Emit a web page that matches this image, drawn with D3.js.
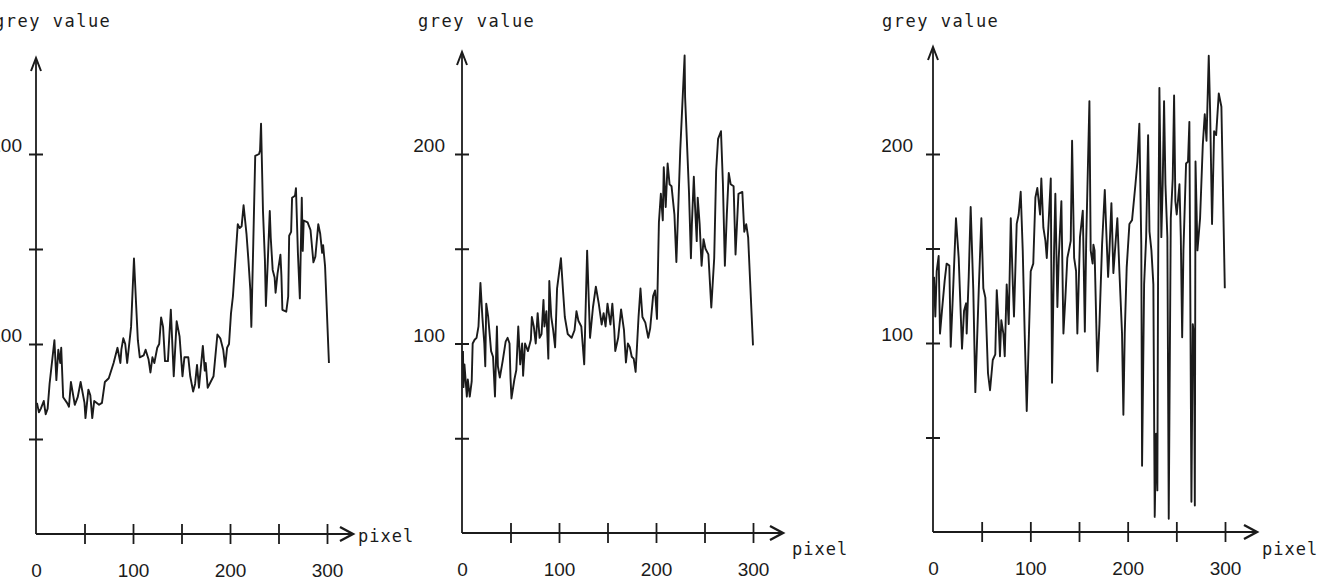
<!DOCTYPE html>
<html>
<head>
<meta charset="utf-8">
<script src="https://d3js.org/d3.v7.min.js"></script>
<style>
body { margin: 0; background: #fff; }
</style>
</head>
<body>
<div id="chart"></div>
<script>
var width = 1317, height = 580;

// profile A (left)
var pixA = [1,3,5,8,10,12,14,19,21,23,25,26,28,32,34,36,40,43,46,50,51,54,56,58,60,65,68,71,75,80,84,87,88,90,92,94,98,99,101,103,105,107,111,113,116,118,120,122,125,127,129,131,133,136,139,142,145,148,151,153,157,159,162,164,166,168,172,174,175,177,180,183,187,190,193,195,197,199,201,203,208,210,212,214,217,219,221,222,224,226,230,231,232,234,236,237,239,241,242,244,246,247,249,252,253,254,258,260,261,263,264,267,268,270,272,274,275,276,280,283,286,288,291,293,295,296,298,302];
var greyA = [69,64,66,70,63,66,79,102,81,97,90,98,72,69,67,80,68,72,80,69,61,76,73,61,70,68,69,80,82,90,98,90,97,103,100,90,109,121,145,123,102,93,94,97,92,85,93,90,98,100,114,109,91,91,118,83,112,104,83,93,93,83,75,79,89,77,99,86,90,77,80,83,105,103,97,88,98,100,116,125,163,161,162,173,158,144,128,109,153,199,200,202,216,170,144,120,144,170,156,139,135,127,137,147,136,118,117,125,157,159,177,178,182,148,124,177,149,165,164,160,143,146,163,158,148,152,141,90];

// profile B (middle)
var pixB = [1,1.5,2.5,5,6,8,10,11,13,15,17,19,21,23,24,25,27,30,32,34,36,37,39,42,45,47,49,50,51,54,56,58,60,62,63,65,68,71,72,74,76,78,80,82,84,85,87,89,90,92,94,96,98,102,104,106,109,113,116,118,120,123,126,129,132,135,138,141,144,146,148,150,153,155,157,158,161,164,167,169,171,173,175,177,179,182,184,186,189,192,194,197,199,201,203,205,207,208,210,212,214,216,219,221,225,229.5,230,234,236,237,239,240,242,243,245,247,249,251,254,257,260,262,264,267,269,271,273,275,277,280,282,285,289,291,293,295,300];
var greyB = [96,77,89,72,81,72,80,100,102,103,109,132,114,100,88,121,114,96,93,72,109,88,82,91,101,103,100,82,71,81,86,109,89,100,83,100,96,102,114,109,100,116,103,105,123,109,117,92,133,114,107,98,129,145,129,114,105,103,107,117,112,109,89,149,103,119,130,121,110,116,109,121,110,121,107,96,103,118,107,90,100,98,93,92,85,114,129,114,111,103,108,125,128,113,164,179,165,193,172,195,184,183,168,143,202,252,230,180,145,163,188,175,154,177,163,141,155,150,147,119,145,191,208,212,184,141,168,190,184,183,147,179,180,159,163,156,99];

// profile C (right)
var pixC = [1,2.4,3.8,5.8,7.2,9.2,12,14,16.8,18.2,20.9,23.6,26.4,29.8,31.9,34,34.6,36.7,38.7,41.4,43.5,47,49.7,51.7,53.8,56.5,58.6,61.4,64,65.5,67.5,68.8,70.2,72.3,73.7,75.7,77.8,79.9,82,83.2,86,88,90.1,92.2,94.2,96.3,98.3,100.4,103,105.2,107.2,110,111.3,113.4,115.5,116.9,118.9,121,122.3,124.4,125.7,127.8,129.2,131.9,134,136,138,140,141.5,142.9,145,147,148.3,151,153.9,156,157.4,160.7,162,164,164.8,166,168.9,171,173.7,176.5,177.9,179.9,181.3,183.3,185.3,187.4,189.4,191.5,194.2,195.6,197,199,201.8,204.5,208,210,212,214,214.8,216.9,219,221,222.4,224.4,226.4,227.8,229.2,230.5,231.2,232.6,234.6,236,237.4,238.8,240.8,242.2,244.3,246.3,247.7,249,250.4,253.2,254.6,256,257.3,260,262,263.4,265.5,266.9,268.3,269,269.7,271.7,274.4,277.2,279.2,281,283.3,284.7,286.7,288.8,290.9,293.6,296.3,299.8];
var greyC = [135,114,138,146,105,117,133,142,141,98,131,166,145,97,117,121,105,135,172,128,74,128,166,129,124,84,75,91,94,128,110,93,112,105,93,131,110,166,131,114,163,168,180,149,105,64,100,138,142,177,182,168,187,161,154,145,165,187,79,149,179,119,145,175,105,124,145,150,154,207,145,138,105,156,170,106,154,228,149,142,152,149,85,110,152,181,161,135,149,174,137,152,166,138,105,62,105,140,163,165,184,196,216,152,35,131,156,210,159,149,131,8,52,22,131,235,156,184,228,184,156,7,166,187,231,175,168,184,156,103,149,195,196,217,16,110,103,14,196,149,166,205,221,207,252,223,163,212,210,232,225,129];

var xTicks = [50, 100, 150, 200, 250, 300];
var xLabels = [0, 100, 200, 300];
var yTicks = [50, 100, 150, 200];
var yLabels = [100, 200];

var series = [
  {pix: pixA, grey: greyA},
  {pix: pixB, grey: greyB},
  {pix: pixC, grey: greyC}
];

// panel placement on the page
var panels = [
  {x0: 36,  x300: 327,  y0: 534, y200: 154, yTop: 58, xEnd: 353,  labDx: -14, gvX: -6,  pixX: 358,  pixY: 542},
  {x0: 462, x300: 753,  y0: 533, y200: 154, yTop: 52, xEnd: 783,  labDx: -17, gvX: 418, pixX: 792,  pixY: 555},
  {x0: 933, x300: 1225, y0: 532, y200: 154, yTop: 47, xEnd: 1257, labDx: -20, gvX: 882, pixX: 1262, pixY: 555}
];

var ink = "#1b1b1b";
var numFont = "'Liberation Sans', Arial, sans-serif";
var monoFont = "'DejaVu Sans Mono', 'Liberation Mono', monospace";

var svg = d3.select("#chart").append("svg")
    .attr("width", width)
    .attr("height", height);

panels.forEach(function(pn, i) {
  var g = svg.append("g");
  var x = d3.scaleLinear().domain([0, 300]).range([pn.x0, pn.x300]);
  var y = d3.scaleLinear().domain([0, 200]).range([pn.y0, pn.y200]);

  // axis lines
  g.append("line")
    .attr("x1", pn.x0).attr("y1", pn.y0)
    .attr("x2", pn.xEnd).attr("y2", pn.y0)
    .attr("stroke", ink).attr("stroke-width", 2.2);
  g.append("line")
    .attr("x1", pn.x0).attr("y1", pn.y0)
    .attr("x2", pn.x0).attr("y2", pn.yTop)
    .attr("stroke", ink).attr("stroke-width", 1.8);

  // arrow heads
  g.append("path")
    .attr("d", "M" + (pn.x0 - 5) + "," + (pn.yTop + 13) + "L" + pn.x0 + "," + pn.yTop + "L" + (pn.x0 + 5) + "," + (pn.yTop + 13))
    .attr("fill", "none").attr("stroke", ink).attr("stroke-width", 2);
  g.append("path")
    .attr("d", "M" + (pn.xEnd - 13) + "," + (pn.y0 - 7) + "L" + pn.xEnd + "," + pn.y0 + "L" + (pn.xEnd - 13) + "," + (pn.y0 + 7))
    .attr("fill", "none").attr("stroke", ink).attr("stroke-width", 2.4);

  // tick marks crossing the axes
  var xt = g.append("g")
    .attr("transform", "translate(0," + (pn.y0 - 10) + ")")
    .call(d3.axisBottom(x).tickValues(xTicks).tickSize(20).tickFormat(""));
  xt.select(".domain").remove();
  xt.selectAll("line").attr("stroke", ink).attr("stroke-width", 1.8);

  var yt = g.append("g")
    .attr("transform", "translate(" + (pn.x0 + 7) + ",0)")
    .call(d3.axisLeft(y).tickValues(yTicks).tickSize(14).tickFormat(""));
  yt.select(".domain").remove();
  yt.selectAll("line").attr("stroke", ink).attr("stroke-width", 2);

  // tick labels
  var xl = g.append("g")
    .attr("transform", "translate(0," + pn.y0 + ")")
    .call(d3.axisBottom(x).tickValues(xLabels).tickSize(0));
  xl.select(".domain").remove();
  xl.selectAll("text")
    .attr("y", 43).attr("dy", 0)
    .attr("fill", ink)
    .style("font-family", numFont).style("font-size", "19px");

  var yl = g.append("g")
    .attr("transform", "translate(" + (pn.x0 + pn.labDx) + ",0)")
    .call(d3.axisLeft(y).tickValues(yLabels).tickSize(0).tickPadding(0));
  yl.select(".domain").remove();
  yl.selectAll("text")
    .attr("x", 0).attr("dy", "-0.12em")
    .attr("fill", ink)
    .style("font-family", numFont).style("font-size", "19px");

  // axis titles
  g.append("text")
    .attr("x", pn.gvX).attr("y", 27)
    .attr("fill", ink)
    .style("font-family", monoFont).style("font-size", "17px")
    .style("letter-spacing", "1.5px")
    .text("grey value");
  g.append("text")
    .attr("x", pn.pixX).attr("y", pn.pixY)
    .attr("fill", ink)
    .style("font-family", monoFont).style("font-size", "17px")
    .style("letter-spacing", "1px")
    .text("pixel");

  // the profile
  var s = series[i];
  var pts = s.pix.map(function(p, k) { return [p, s.grey[k]]; });
  var line = d3.line()
    .x(function(d) { return x(d[0]); })
    .y(function(d) { return y(d[1]); });
  g.append("path")
    .datum(pts)
    .attr("d", line)
    .attr("fill", "none")
    .attr("stroke", ink)
    .attr("stroke-width", 1.9)
    .attr("stroke-linejoin", "round");
});
</script>
</body>
</html>
